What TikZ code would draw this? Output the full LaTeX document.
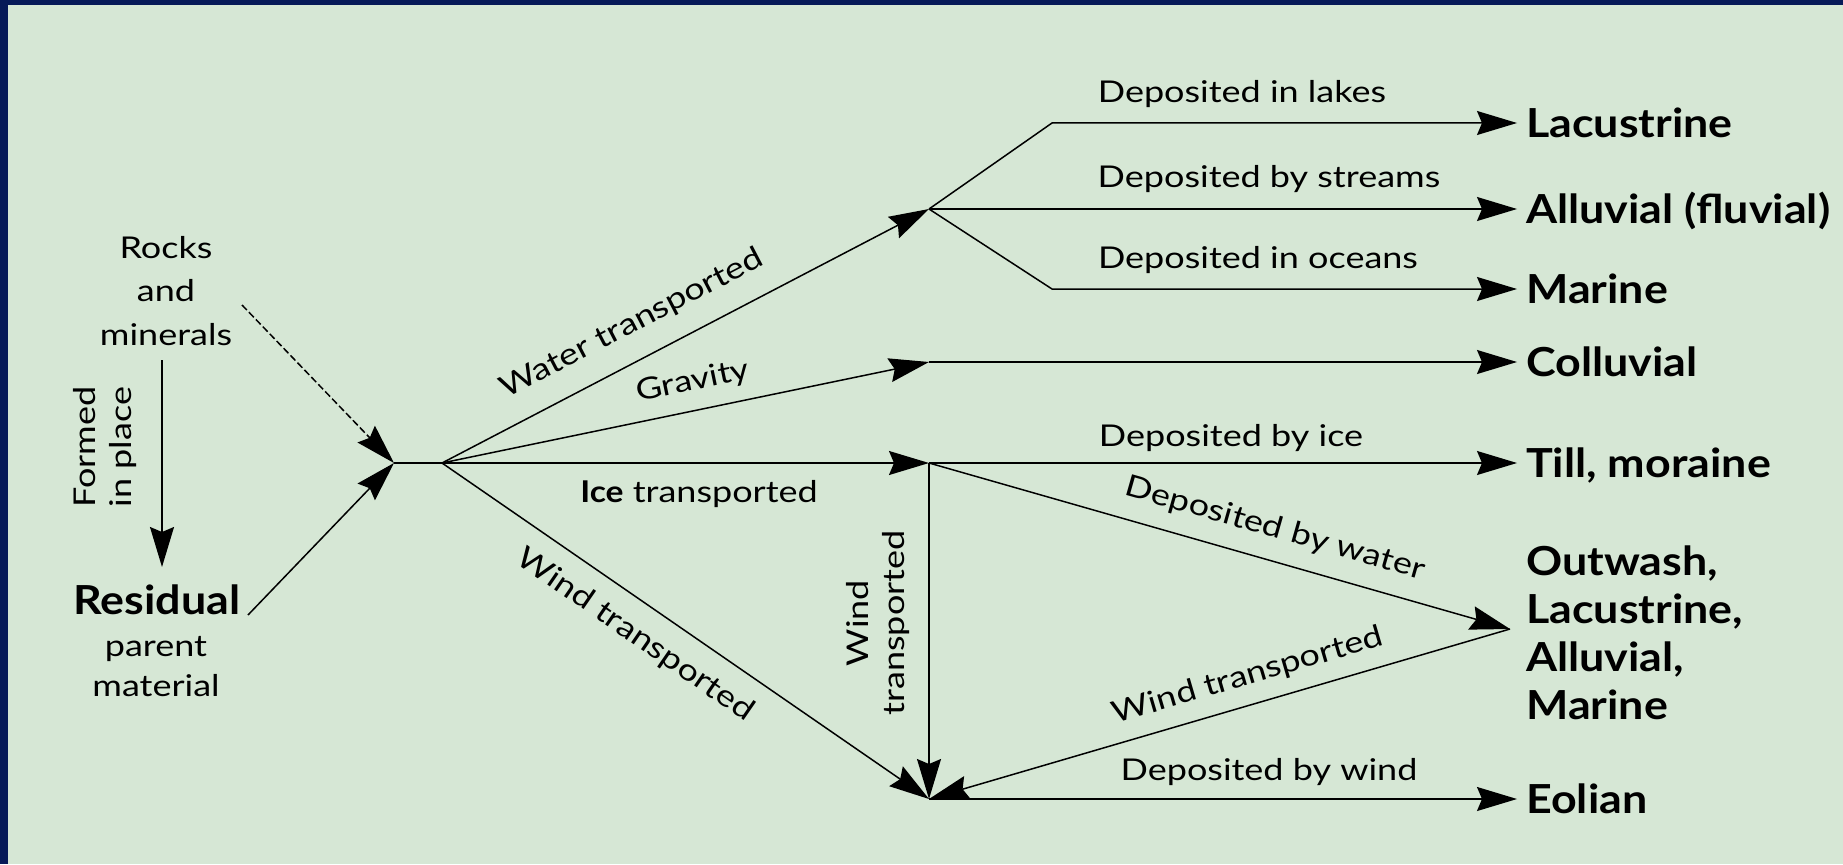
\documentclass[tikz,border=0pt]{standalone}
\usepackage{fontspec}
\setmainfont{Lato}[FakeStretch=1.2,BoldFeatures={FakeStretch=1.12}]
\usetikzlibrary{arrows.meta}
\definecolor{navy}{RGB}{6,26,88}
\definecolor{bggreen}{RGB}{214,231,213}
\begin{document}
\begin{tikzpicture}[x=1pt,y=-1pt,
  conn/.style={line width=1.5pt},
  arr/.style={conn,-{Stealth[length=40pt,width=24pt,inset=5pt]}},
  lbl/.style={font=\fontsize{30}{36}\selectfont, inner sep=0pt},
  term/.style={font=\fontsize{40}{48}\selectfont\bfseries, inner ysep=0pt, inner xsep=9pt, anchor=west, text height=29pt, text depth=0pt},
]
\useasboundingbox (0,0) rectangle (1843,864);
\fill[navy] (0,0) rectangle (1843,864);
\fill[bggreen] (8,5) rectangle (1843,864);

% junction points
\coordinate (J0) at (394,463);
\coordinate (J1) at (442,463);
\coordinate (W) at (929,209);
\coordinate (G) at (929,362);
\coordinate (I) at (929,463);
\coordinate (B) at (929,799);
\coordinate (Lk) at (1052,123);
\coordinate (Oc) at (1052,289);
\coordinate (O) at (1510,629);
\coordinate (Dst) at (242,305);
\coordinate (Rst) at (248,615);
\coordinate (FA) at (162,360);
\coordinate (FB) at (162,567);

% left texts
\node[lbl, align=center, font=\fontsize{30}{43.5}\selectfont] (rocks) at (166,291) {Rocks\\and\\minerals};
\node[lbl, align=center, rotate=90, font=\fontsize{30}{36}\selectfont] (formed) at (105,447) {Formed\\in place};
\node[lbl, font=\fontsize{40}{48}\selectfont\bfseries] (resid) at (157,600) {Residual};
\node[lbl, align=center, font=\fontsize{30}{40}\selectfont] (parent) at (156,667) {parent\\material};

% right terms
\node[term] (lac) at (1517,123) {Lacustrine};
\node[term] (all) at (1517,209) {Alluvial (fluvial)};
\node[term] (mar) at (1517,289) {Marine};
\node[term] (col) at (1517,362) {Colluvial};
\node[term] (till) at (1517,463) {Till, moraine};
\node[term, text height=, text depth=, align=left, font=\fontsize{40}{48}\selectfont\bfseries] (outw) at (1517,633) {Outwash,\\Lacustrine,\\Alluvial,\\Marine};
\node[term] (eol) at (1517,799) {Eolian};

% connectors
\draw[arr] (FA) -- (FB);
\draw[arr, dashed, dash pattern=on 7pt off 3pt] (Dst) -- (J0);
\draw[arr] (Rst) -- (J0);
\draw[conn] (J0) -- (J1);
\draw[arr] (J1) -- (W);
\draw[arr] (J1) -- (G);
\draw[arr] (J1) -- (I);
\draw[arr] (J1) -- (B);
\draw[arr] (W) -- (Lk) -- (lac.west);
\draw[arr] (W) -- (all.west);
\draw[arr] (W) -- (Oc) -- (mar.west);
\draw[arr] (G) -- (col.west);
\draw[arr] (I) -- (till.west);
\draw[arr] (I) -- (O);
\draw[arr] (I) -- (B);
\draw[arr] (O) -- (B);
\draw[arr] (B) -- (eol.west);

% edge labels
\node[lbl, rotate=27.5] (lw) at (632,324) {Water transported};
\node[lbl, rotate=11.7] (lg) at (693,382) {Gravity};
\node[lbl] (li) at (699,494) {\textbf{Ice} transported};
\node[lbl, rotate=-34.6] (lwd) at (635,635) {Wind transported};
\node[lbl, align=center, rotate=90] (lwv) at (878,623) {Wind\\transported};
\node[lbl] (ldi) at (1231,438) {Deposited by ice};
\node[lbl, rotate=-15.9] (ldw) at (1275,529) {Deposited by water};
\node[lbl, rotate=16.3] (lwt) at (1248,676) {Wind transported};
\node[lbl] (ldwd) at (1269,772) {Deposited by wind};
\node[lbl] (ldl) at (1242,94) {Deposited in lakes};
\node[lbl] (lds) at (1269,179) {Deposited by streams};
\node[lbl] (ldo) at (1258,260) {Deposited in oceans};
\end{tikzpicture}
\end{document}
